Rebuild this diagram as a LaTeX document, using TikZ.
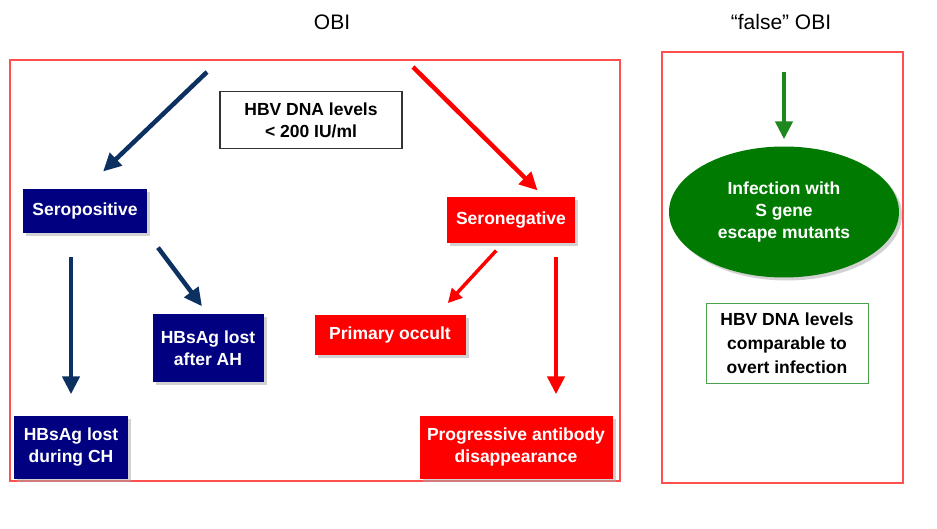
\documentclass[tikz,border=0pt]{standalone}
\usepackage{fontspec}
\setmainfont{Liberation Sans}
\usetikzlibrary{arrows.meta,shadows,shapes.geometric}
\definecolor{boxnavy}{RGB}{0,0,128}
\definecolor{arrnavy}{RGB}{12,48,96}
\definecolor{boxred}{RGB}{255,0,0}
\definecolor{framered}{RGB}{255,80,80}
\definecolor{boxgreen}{RGB}{0,122,0}
\definecolor{arrgreen}{RGB}{30,135,30}

\begin{document}
\begin{tikzpicture}[x=1pt,y=-1pt,
  lbl/.style={font=\fontsize{17.5}{22}\selectfont\bfseries,align=center,inner sep=0pt},
  shade/.style={drop shadow={shadow xshift=3pt,shadow yshift=-3pt,fill=black!35}},
  navybox/.style={lbl,shade,fill=boxnavy,text=white},
  redbox/.style={lbl,shade,fill=boxred,text=white},
  arr/.style={line width=4.5pt,-{Triangle[length=18pt,width=17pt]}},
  title/.style={font=\fontsize{21}{24}\selectfont}]
  \useasboundingbox (0,0) rectangle (937,529);
  % frames and titles
  \draw[framered,line width=1.2pt] (10,60) rectangle (620,481);
  \draw[framered,line width=1.2pt] (662,52) rectangle (903,483);
  \node[title] (obi) at (332,22) {OBI};
  \node[title] (fobi) at (781,22) {“false” OBI};
  % left part
  \node[lbl,draw=black!80,line width=1.3pt,minimum width=182pt,minimum height=57pt] (dna) at (311,120) {HBV DNA levels\\< 200 IU/ml};
  \node[navybox,minimum width=124pt,minimum height=44pt] (seropos) at (85,211) {Seropositive};
  \node[redbox,minimum width=128pt,minimum height=46pt] (seroneg) at (511,220) {Seronegative};
  \node[navybox,minimum width=111pt,minimum height=67pt] (afterah) at (208,348) {HBsAg lost\\after AH};
  \node[navybox,minimum width=114pt,minimum height=63pt] (duringch) at (71,447) {HBsAg lost\\during CH};
  \node[redbox,minimum width=151pt,minimum height=40pt] (primocc) at (390,335) {Primary occult};
  \node[redbox,minimum width=193pt,minimum height=63pt] (progress) at (516,447) {Progressive antibody\\disappearance};
  \coordinate (n0) at (207,72);
  \coordinate (r0) at (413,67);
  \draw[arr,arrnavy,shorten >=25pt] (n0) -- (seropos.north);
  \draw[arr,boxred,shorten >=9pt] (r0) -- ([xshift=33pt]seroneg.north);
  \draw[arr,arrnavy,shorten <=24pt,shorten >=21pt] (duringch.north |- seropos.south) -- (duringch.north);
  \draw[arr,arrnavy,shorten <=18pt,shorten >=10pt] (seropos.south east) -- (afterah.north);
  \draw[arr,boxred,line width=3.5pt,-{Triangle[length=14pt,width=14pt]},shorten <=10pt,shorten >=16pt] ([xshift=-8pt]seroneg.south) -- ([xshift=47pt]primocc.north);
  \draw[arr,boxred,shorten <=14pt,shorten >=21pt] ([xshift=40pt]progress.north |- seroneg.south) -- ([xshift=40pt]progress.north);
  % right part
  \node[lbl,shade,ellipse,fill=boxgreen,text=white,minimum width=230pt,minimum height=131pt] (infect) at (784,212) {Infection with\\S gene\\escape mutants};
  \node[lbl,font=\fontsize{17.5}{24}\selectfont\bfseries,draw=boxgreen!70,line width=0.8pt,minimum width=162pt,minimum height=80pt] (compar) at (787,343) {HBV DNA levels\\comparable to\\overt infection};
  \coordinate (g0) at (784,72);
  \draw[arr,arrgreen,shorten >=7pt] (g0) -- (infect.north);
\end{tikzpicture}
\end{document}
